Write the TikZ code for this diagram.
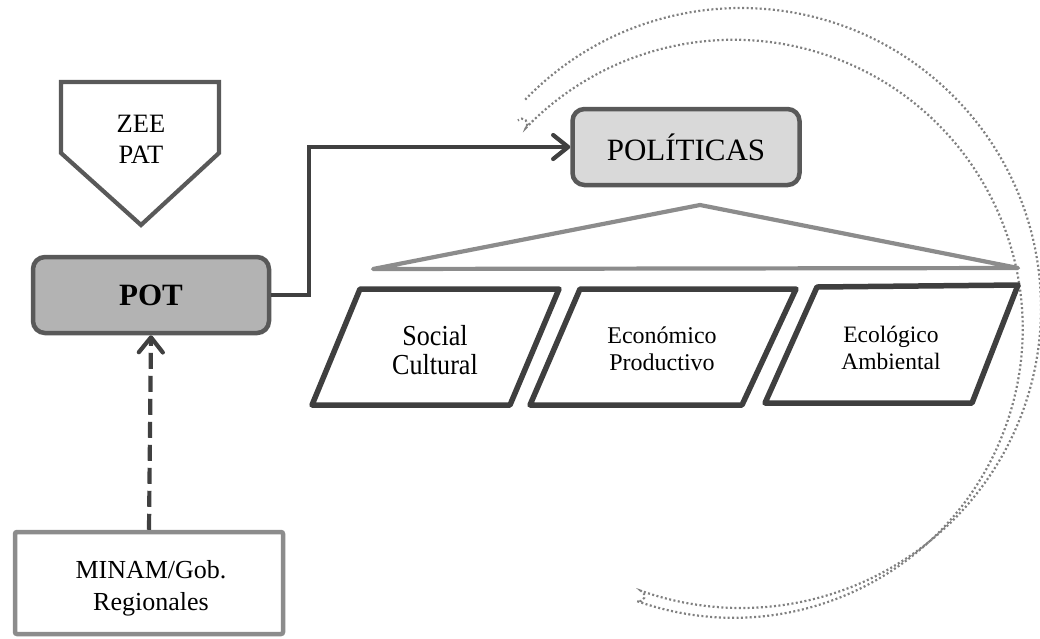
\documentclass[tikz,border=0pt]{standalone}
\usepackage{fontspec}
\setmainfont{Liberation Serif}
\usetikzlibrary{arrows.meta,calc}
\definecolor{potfill}{HTML}{B3B3B3}
\definecolor{polfill}{HTML}{D9D9D9}
\definecolor{boxline}{HTML}{595959}
\definecolor{conncol}{HTML}{404040}
\definecolor{paracol}{HTML}{3F3F3F}
\definecolor{lightline}{HTML}{8C8C8C}
\definecolor{dotcol}{HTML}{808080}
\tikzset{
  roundbox/.style={draw=boxline, line width=4.5pt, rounded corners=12pt, inner sep=0pt},
  conn/.style={draw=conncol, line width=4.2pt, -{Straight Barb[length=15pt,width=24pt,round]}},
  dashconn/.style={conn, dash pattern=on 16pt off 7pt},
  para/.style={draw=paracol, line width=5.5pt, fill=white, line join=round},
  tri/.style={draw=lightline, line width=4.2pt, line join=round, line cap=round},
  dotarc/.style={draw=dotcol, line width=2.2pt, dash pattern=on 2pt off 2.4pt},
  lbl/.style={align=center, inner sep=0pt, text=black},
}
\begin{document}
\begin{tikzpicture}[x=1pt,y=1pt]
\useasboundingbox (0,0) rectangle (1040,-638);
% dotted double arc
\coordinate (ac) at (741,-308);
\draw[dotarc] ($(ac)+(136:300)$) arc[start angle=136, end angle=-109.5, radius=300]
  arc[start angle=70.5, end angle=-109.5, radius=5.5]
  arc[start angle=-109.5, end angle=136, radius=289]
  arc[start angle=-44, end angle=136, radius=5.5];
% ZEE pentagon
\draw[draw=boxline, line width=4.2pt, fill=white, line join=miter]
  (61,-82) -- (219,-82) -- (219,-153) -- (141,-225) -- (61,-153) -- cycle;
\node[lbl, font=\fontsize{26.5}{31}\selectfont] (zee) at (141,-139) {ZEE\\PAT};
% POT
\node[roundbox, fill=potfill, minimum width=236pt, minimum height=76pt,
      font=\fontsize{31}{36}\selectfont\bfseries] (pot) at (151,-295) {POT};
% POLITICAS
\node[roundbox, fill=polfill, minimum width=227pt, minimum height=76pt,
      font=\fontsize{31}{36}\selectfont] (pol) at (686,-147) {POLÍTICAS};
% MINAM
\node[draw=lightline, line width=4.5pt, rounded corners=2pt, fill=white,
      minimum width=268pt, minimum height=102pt, inner sep=0pt] (min) at (149,-583) {};
\node[lbl, font=\fontsize{26}{32}\selectfont] (mintxt) at (151,-588) {MINAM/Gob.\\Regionales};
% connectors
\draw[conn] (pot.east) -- ++(38,0) |- (pol.west);
\draw[dashconn] (min.north) -- (pot.south);
% triangle
\draw[tri] (373,-269) -- (700,-205) -- (1018,-268) -- cycle;
% parallelograms
\draw[para] (360,-289) -- (559,-289) -- (510,-405) -- (312,-405) -- cycle;
\draw[para] (580,-289) -- (796,-289) -- (742,-405) -- (530,-405) -- cycle;
\draw[para] (817,-287) -- (1018,-285) -- (972,-403) -- (765,-403) -- cycle;
\node[lbl, font=\fontsize{29}{29}\selectfont] (soc) at (435,-350) {\scalebox{0.9}[1]{Social}\\\scalebox{0.9}[1]{Cultural}};
\node[lbl, font=\fontsize{24}{27}\selectfont] (eco) at (662,-349) {Económico\\Productivo};
\node[lbl, font=\fontsize{23.5}{27}\selectfont] (ecol) at (891,-348) {Ecológico\\Ambiental};
\end{tikzpicture}
\end{document}
